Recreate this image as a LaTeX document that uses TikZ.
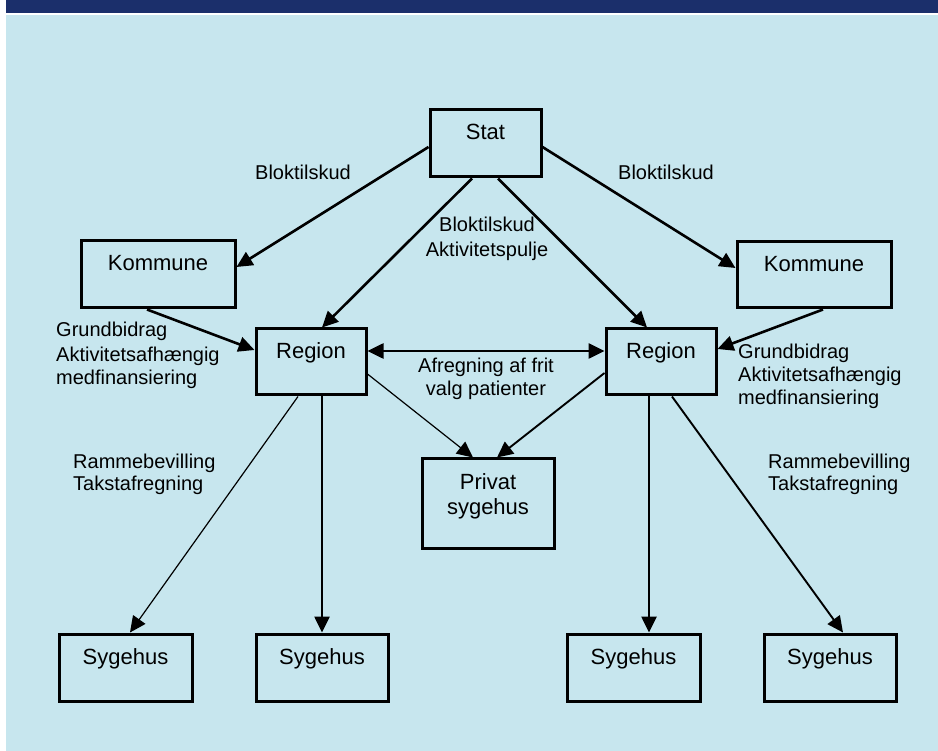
\documentclass[tikz,border=0pt]{standalone}
\usepackage{fontspec}
\setmainfont{Liberation Sans}
\usetikzlibrary{arrows.meta}
\definecolor{barblue}{RGB}{27,47,107}
\definecolor{panelblue}{RGB}{199,230,238}
\tikzset{
  box/.style={draw=black, line width=3pt, fill=panelblue, inner sep=0pt},
  btxt/.style={anchor=base, inner sep=0pt, font=\fontsize{22}{25}\selectfont, align=center},
  lbl/.style={inner sep=0pt, font=\fontsize{20}{24}\selectfont},
  tip/.tip={Triangle[length=16pt,width=15pt]},
  conn/.style={line width=2.6pt, -tip},
  thinconn/.style={line width=1.2pt, -tip},
  medconn/.style={line width=1.9pt, -tip},
}
\begin{document}
\begin{tikzpicture}[x=1pt,y=-1pt]
\useasboundingbox (0,0) rectangle (938,751);
\fill[white] (0,0) rectangle (938,751);
\fill[barblue] (6,0) rectangle (938,13);
\fill[panelblue] (6,15) rectangle (938,751);

% boxes
\node[box, minimum width=111pt, minimum height=67pt] (stat) at (485.5,143.5) {};
\node[box, minimum width=154pt, minimum height=67pt] (kom1) at (158,274.5) {};
\node[box, minimum width=154pt, minimum height=66pt] (kom2) at (814,275) {};
\node[box, minimum width=110pt, minimum height=66pt] (reg1) at (311,362) {};
\node[box, minimum width=110pt, minimum height=66pt] (reg2) at (661,362) {};
\node[box, minimum width=132pt, minimum height=89pt] (priv) at (488,503.5) {};
\node[box, minimum width=133pt, minimum height=67pt] (syg1) at (125.5,667.5) {};
\node[box, minimum width=132pt, minimum height=67pt] (syg2) at (322,667.5) {};
\node[box, minimum width=133pt, minimum height=67pt] (syg3) at (633.5,667.5) {};
\node[box, minimum width=132pt, minimum height=67pt] (syg4) at (830,667.5) {};

% box texts
\node[btxt] (statT) at ([yshift=-31pt]stat.north) {Stat};
\node[btxt] (kom1T) at ([yshift=-31pt]kom1.north) {Kommune};
\node[btxt] (kom2T) at ([yshift=-31pt]kom2.north) {Kommune};
\node[btxt] (reg1T) at ([yshift=-31pt]reg1.north) {Region};
\node[btxt] (reg2T) at ([yshift=-31pt]reg2.north) {Region};
\node[btxt] (privT) at ([yshift=-57pt]priv.north) {Privat\\sygehus};
\node[btxt] (syg1T) at ([yshift=-32pt]syg1.north) {Sygehus};
\node[btxt] (syg2T) at ([yshift=-32pt]syg2.north) {Sygehus};
\node[btxt] (syg3T) at ([yshift=-32pt]syg3.north) {Sygehus};
\node[btxt] (syg4T) at ([yshift=-32pt]syg4.north) {Sygehus};

% connectors
\draw[conn] ([yshift=-3.5pt]stat.west) -- ([yshift=7.5pt]kom1.east);
\draw[conn] ([xshift=-13.5pt]stat.south) -- ([xshift=11pt]reg1.north);
\draw[conn] ([xshift=12.5pt]stat.south) -- ([xshift=-14pt]reg2.north);
\draw[conn] ([yshift=-3.5pt]stat.east) -- ([yshift=7pt]kom2.west);
\draw[conn] ([xshift=-11pt]kom1.south) -- ([yshift=12pt]reg1.west);
\draw[conn] ([xshift=9pt]kom2.south) -- ([yshift=13pt]reg2.east);
\draw[conn, tip-tip] ([yshift=11pt]reg1.east) -- ([yshift=11pt]reg2.west);
\draw[thinconn] ([yshift=-12pt]reg1.east) -- ([xshift=-15pt]priv.north);
\draw[medconn] ([yshift=-11pt]reg2.west) -- ([xshift=9pt]priv.north);
\draw[thinconn] ([xshift=-13pt]reg1.south) -- ([xshift=4.5pt]syg1.north);
\draw[conn] ([xshift=11pt]reg1.south) -- (syg2.north);
\draw[conn] ([xshift=-12pt]reg2.south) -- ([xshift=15.5pt]syg3.north);
\draw[medconn] ([xshift=11pt]reg2.south) -- ([xshift=13pt]syg4.north);

% labels
\node[lbl] (l1) at (303,172) {Bloktilskud};
\node[lbl] (l2) at (666,172) {Bloktilskud};
\node[lbl, align=center, anchor=base, font=\fontsize{20}{25}\selectfont] (l3) at (487,257) {Bloktilskud\\Aktivitetspulje};
\node[lbl, align=left, anchor=base west] (l4) at (56,385) {Grundbidrag\\Aktivitetsafhængig\\medfinansiering};
\node[lbl, align=left, anchor=base west, font=\fontsize{20}{23}\selectfont] (l5) at (738,405) {Grundbidrag\\Aktivitetsafhængig\\medfinansiering};
\node[lbl, align=center, anchor=base] (l6) at (486,396) {Afregning af frit\\valg patienter};
\node[lbl, align=left, anchor=base west, font=\fontsize{20}{21.7}\selectfont] (l7) at (73,490) {Rammebevilling\\Takstafregning};
\node[lbl, align=left, anchor=base west, font=\fontsize{20}{21.7}\selectfont] (l8) at (768,490) {Rammebevilling\\Takstafregning};
\end{tikzpicture}
\end{document}
